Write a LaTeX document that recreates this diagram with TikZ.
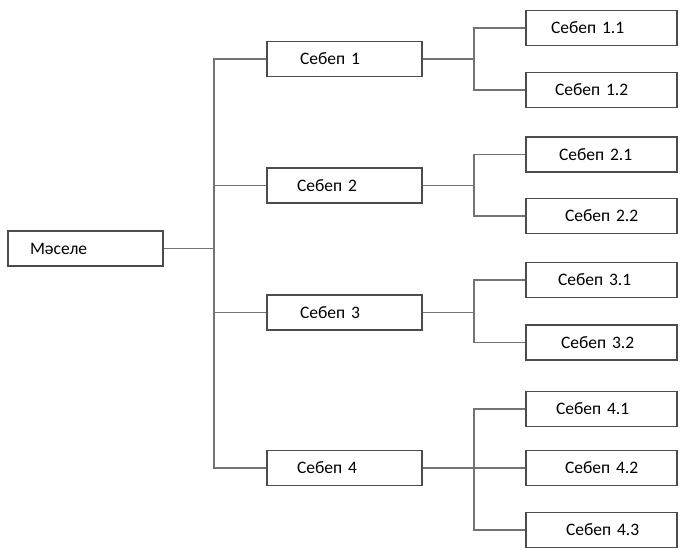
\documentclass[tikz,border=0pt]{standalone}
\usepackage{fontspec}
\setmainfont{Carlito}
\begin{document}
\begin{tikzpicture}[x=1pt,y=-1pt,
  box/.style={draw=black!70, line width=1.5pt, inner xsep=0pt, inner ysep=0pt, align=left,
    font=\fontsize{17.5}{20}\selectfont, text=black, anchor=center},
  mbox/.style={box, minimum width=155pt, text width=155pt, minimum height=35pt},
  cbox/.style={box, minimum width=151pt, text width=151pt, minimum height=35pt},
  conn/.style={draw=black!55, line width=1.5pt}]
\useasboundingbox (0,0) rectangle (680,549);
\node[mbox] (m) at (85.5,248.5) {\hspace*{22pt}Мәселе};
\node[mbox] (s1) at (344.5,59) {\hspace*{33pt}Себеп 1};
\node[mbox] (s2) at (344.5,185.5) {\hspace*{30pt}Себеп 2};
\node[mbox] (s3) at (344.5,312.5) {\hspace*{33pt}Себеп 3};
\node[mbox] (s4) at (344.5,468) {\hspace*{30pt}Себеп 4};
\node[cbox] (c11) at (601.5,28) {\hspace*{25pt}Себеп 1.1};
\node[cbox] (c12) at (601.5,90) {\hspace*{29pt}Себеп 1.2};
\node[cbox] (c21) at (601.5,154.5) {\hspace*{33pt}Себеп 2.1};
\node[cbox] (c22) at (601.5,216) {\hspace*{39pt}Себеп 2.2};
\node[cbox] (c31) at (601.5,280) {\hspace*{32pt}Себеп 3.1};
\node[cbox] (c32) at (601.5,342.5) {\hspace*{35pt}Себеп 3.2};
\node[cbox] (c41) at (601.5,409) {\hspace*{30pt}Себеп 4.1};
\node[cbox] (c42) at (601.5,468) {\hspace*{39pt}Себеп 4.2};
\node[cbox] (c43) at (601.5,530) {\hspace*{40pt}Себеп 4.3};
\coordinate (trunk) at (214,0);
\coordinate (j) at (474,0);
\draw[conn] (m.east) -- (m.east -| trunk);
\draw[conn] (s1.west) -- (s1.west -| trunk) -- (s4.west -| trunk) -- (s4.west);
\draw[conn] (s2.west) -- (s2.west -| trunk);
\draw[conn] (s3.west) -- (s3.west -| trunk);
\draw[conn] (s1.east) -- (s1.east -| j);
\draw[conn] (c11.west) -- (c11.west -| j) -- (c12.west -| j) -- (c12.west);
\draw[conn] (s2.east) -- (s2.east -| j);
\draw[conn] (c21.west) -- (c21.west -| j) -- (c22.west -| j) -- (c22.west);
\draw[conn] (s3.east) -- (s3.east -| j);
\draw[conn] (c31.west) -- (c31.west -| j) -- (c32.west -| j) -- (c32.west);
\draw[conn] (s4.east) -- (s4.east -| j);
\draw[conn] (c41.west) -- (c41.west -| j) -- (c43.west -| j) -- (c43.west);
\draw[conn] (c42.west) -- (c42.west -| j);
\end{tikzpicture}
\end{document}
